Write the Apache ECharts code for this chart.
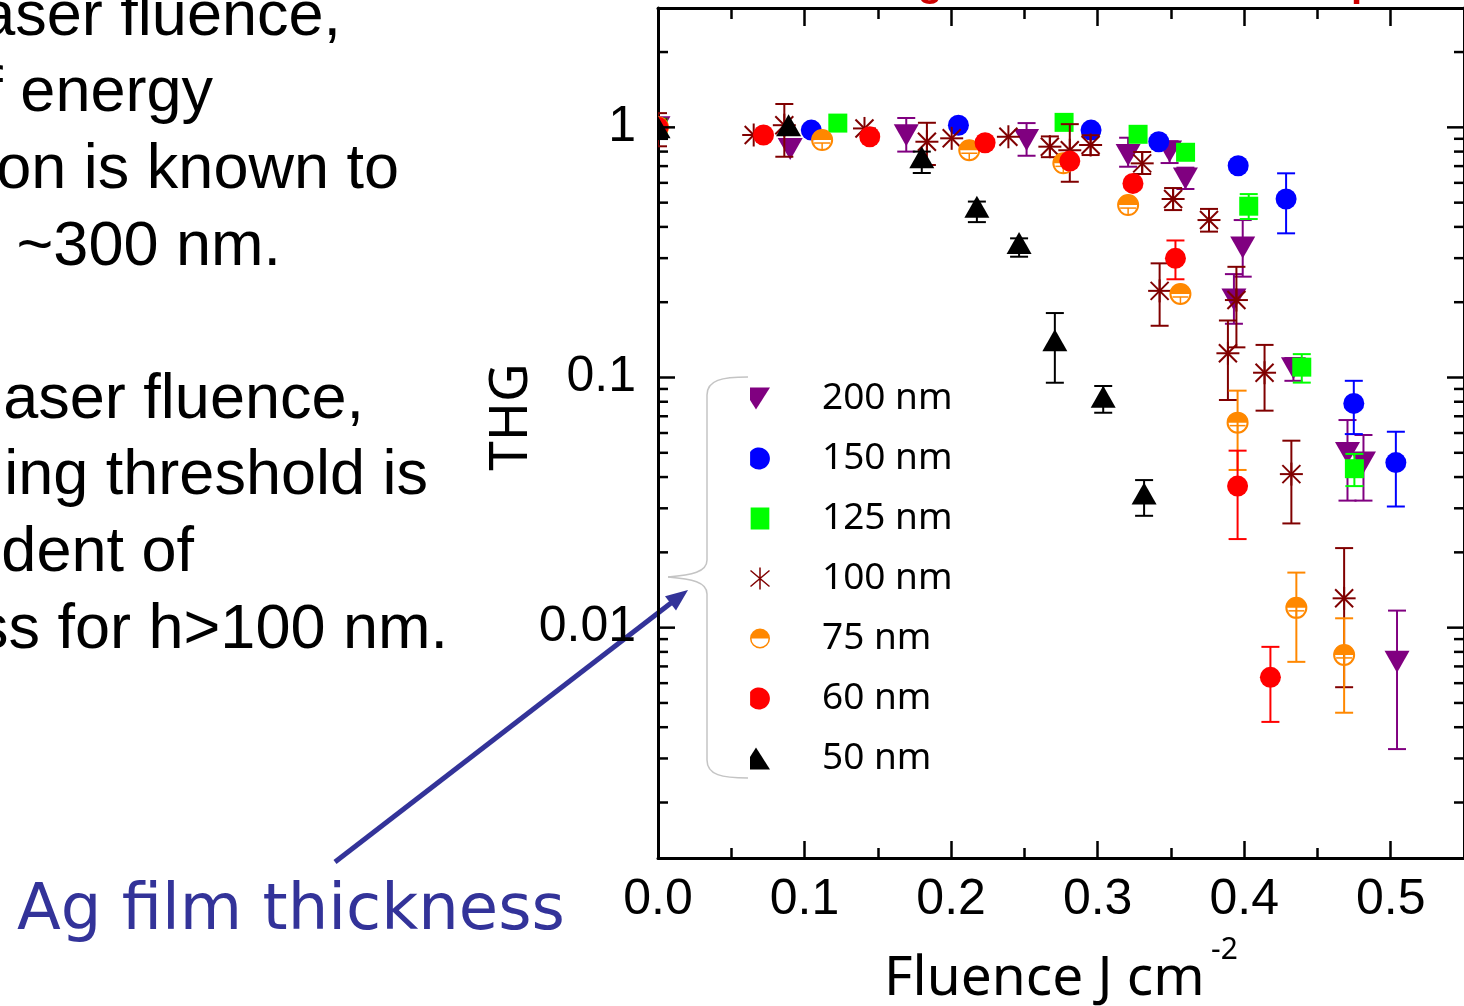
<!DOCTYPE html>
<html>
<head>
<meta charset="utf-8">
<script src="https://cdn.jsdelivr.net/npm/echarts@6/dist/echarts.min.js"></script>
<style>
  html, body { margin: 0; padding: 0; background: #ffffff; }
  #chart { width: 1464px; height: 1006px; }
</style>
</head>
<body>
<div id="chart"></div>
<script>
// THG signal (normalised) versus laser fluence for Ag films of different thickness.
// Each point: [fluence (J cm^-2), THG, lower error, upper error]
const thg200 = [
  [0, 1.0, null, null],
  [0.0902, 0.82, null, null],
  [0.1694, 0.93, 0.80, 1.09],
  [0.2515, 0.89, 0.77, 1.04],
  [0.3208, 0.775, 0.696, 0.909],
  [0.3491, 0.80, 0.72, 0.88],
  [0.3599, 0.625, 0.567, 0.69],
  [0.3930, 0.205, 0.164, 0.259],
  [0.3990, 0.331, 0.253, 0.426],
  [0.4336, 0.109, 0.097, 0.1196],
  [0.4705, 0.0499, 0.0322, 0.0676],
  [0.4814, 0.0457, 0.0322, 0.0589],
  [0.5043, 0.00731, 0.00327, 0.0117]
];
const thg150 = [
  [0, 1.0, null, null],
  [0.1046, 0.975, null, null],
  [0.2050, 1.02, null, null],
  [0.2955, 0.975, null, null],
  [0.3417, 0.876, null, null],
  [0.3959, 0.702, null, null],
  [0.4286, 0.517, 0.377, 0.655],
  [0.4748, 0.0788, 0.0594, 0.097],
  [0.5035, 0.0457, 0.0305, 0.0607]
];
const thg125 = [
  [0, 1.0, null, null],
  [0.1227, 1.04, null, null],
  [0.2771, 1.047, null, null],
  [0.3276, 0.938, null, null],
  [0.3600, 0.795, null, null],
  [0.4031, 0.484, 0.43, 0.541],
  [0.4393, 0.110, 0.0954, 0.124],
  [0.4752, 0.0432, 0.0368, 0.0495]
];
const thg100 = [
  [0, 1.0, 0.84, 1.14],
  [0.0653, 0.932, null, null],
  [0.0862, 1.02, 0.763, 1.24],
  [0.1409, 0.99, null, null],
  [0.1835, 0.876, 0.707, 1.043],
  [0.2004, 0.904, null, null],
  [0.2391, 0.917, null, null],
  [0.2674, 0.837, 0.76, 0.92],
  [0.2810, 0.81, 0.606, 1.03],
  [0.2952, 0.85, 0.775, 0.93],
  [0.3304, 0.718, 0.651, 0.797],
  [0.3423, 0.222, 0.161, 0.286],
  [0.3515, 0.517, 0.467, 0.572],
  [0.3760, 0.426, 0.383, 0.472],
  [0.3889, 0.125, 0.0813, 0.169],
  [0.3947, 0.204, 0.132, 0.277],
  [0.4139, 0.1045, 0.0737, 0.135],
  [0.4322, 0.0411, 0.0261, 0.0559],
  [0.4682, 0.0131, 0.00578, 0.0208]
];
const thg75 = [
  [0, 1.0, null, null],
  [0.1120, 0.89, null, null],
  [0.2124, 0.81, null, null],
  [0.2766, 0.718, null, null],
  [0.3208, 0.489, null, null],
  [0.3565, 0.2157, null, null],
  [0.3955, 0.066, 0.0427, 0.0886],
  [0.4356, 0.0120, 0.0073, 0.0166],
  [0.4682, 0.00778, 0.00457, 0.0109]
];
const thg60 = [
  [0, 1.0, null, null],
  [0.0720, 0.932, null, null],
  [0.1445, 0.917, null, null],
  [0.2232, 0.868, null, null],
  [0.2810, 0.733, null, null],
  [0.3241, 0.597, null, null],
  [0.3531, 0.2995, 0.247, 0.353],
  [0.3955, 0.0368, 0.0226, 0.051],
  [0.4179, 0.00633, 0.0042, 0.00838]
];
const thg50 = [
  [0, 1.0, null, null],
  [0.0891, 1.02, null, null],
  [0.1800, 0.759, 0.657, 0.80],
  [0.2176, 0.482, 0.418, 0.505],
  [0.2464, 0.345, 0.304, 0.36],
  [0.2708, 0.141, 0.0953, 0.181],
  [0.3038, 0.0838, 0.0723, 0.0925],
  [0.3317, 0.0344, 0.028, 0.0389]
];

const seriesNames = ['200 nm', '150 nm', '125 nm', '100 nm', '75 nm', '60 nm', '50 nm'];

// Axis ranges and tick values
const xMin = 0, xMax = 0.55;
const yMin = 0.0012, yMax = 3;
const yMajorTicks = [0.01, 0.1, 1];
const yMinorTicks = [
  0.002, 0.003, 0.004, 0.005, 0.006, 0.007, 0.008, 0.009,
  0.02, 0.03, 0.04, 0.05, 0.06, 0.07, 0.08, 0.09,
  0.2, 0.3, 0.4, 0.5, 0.6, 0.7, 0.8, 0.9,
  2
];

// Slide text beside the plot
const sideLines = [
  'aser fluence,',
  'f energy',
  'on is known to',
  '~300 nm.',
  'aser fluence,',
  'ing threshold is',
  'dent of',
  'ss for h>100 nm.'
];
const calloutText = 'Ag film thickness';
const xTitle = 'Fluence J cm';
const xTitleSup = '-2';
const yTitle = 'THG';

const styles = {
  '200 nm': { color: '#800080', shape: 'triDown' },
  '150 nm': { color: '#0000ff', shape: 'circle' },
  '125 nm': { color: '#00ff00', shape: 'square' },
  '100 nm': { color: '#800000', shape: 'asterisk' },
  '75 nm':  { color: '#ff8800', shape: 'half' },
  '60 nm':  { color: '#ff0000', shape: 'circle' },
  '50 nm':  { color: '#000000', shape: 'triUp' }
};
const seriesData = {
  '200 nm': thg200, '150 nm': thg150, '125 nm': thg125, '100 nm': thg100,
  '75 nm': thg75, '60 nm': thg60, '50 nm': thg50
};

// Marker drawing (pixel offsets are relative to the point position)
const markers = {
  triDown(cx, cy, c) {
    return [{ type: 'polygon', shape: { points: [[cx - 12.5, cy - 11], [cx + 12.5, cy - 11], [cx, cy + 11]] }, style: { fill: c } }];
  },
  triUp(cx, cy, c) {
    return [{ type: 'polygon', shape: { points: [[cx, cy - 11], [cx + 12.5, cy + 11], [cx - 12.5, cy + 11]] }, style: { fill: c } }];
  },
  circle(cx, cy, c) {
    return [{ type: 'circle', shape: { cx: cx, cy: cy, r: 10.5 }, style: { fill: c } }];
  },
  square(cx, cy, c) {
    return [{ type: 'rect', shape: { x: cx - 9.5, y: cy - 9.5, width: 19, height: 19 }, style: { fill: c } }];
  },
  asterisk(cx, cy, c) {
    const s = { stroke: c, lineWidth: 2 };
    return [
      { type: 'line', shape: { x1: cx - 11.5, y1: cy, x2: cx + 11.5, y2: cy }, style: s },
      { type: 'line', shape: { x1: cx, y1: cy - 11.5, x2: cx, y2: cy + 11.5 }, style: s },
      { type: 'line', shape: { x1: cx - 9, y1: cy - 9, x2: cx + 9, y2: cy + 9 }, style: s },
      { type: 'line', shape: { x1: cx - 9, y1: cy + 9, x2: cx + 9, y2: cy - 9 }, style: s }
    ];
  },
  half(cx, cy, c) {
    return [
      { type: 'sector', shape: { cx: cx, cy: cy, r0: 0, r: 10.5, startAngle: Math.PI, endAngle: Math.PI * 2, clockwise: true }, style: { fill: c } },
      { type: 'circle', shape: { cx: cx, cy: cy, r: 10 }, style: { fill: 'none', stroke: c, lineWidth: 2 } },
      { type: 'line', shape: { x1: cx - 8, y1: cy + 3, x2: cx + 8, y2: cy + 3 }, style: { stroke: c, lineWidth: 1.5 } },
      { type: 'line', shape: { x1: cx, y1: cy + 3, x2: cx, y2: cy + 10 }, style: { stroke: c, lineWidth: 1.5 } }
    ];
  }
};

function pointRenderer(shape) {
  return function (params, api) {
    const x = api.value(0), y = api.value(1), lo = api.value(2), hi = api.value(3);
    const color = api.visual('color');
    const c = api.coord([x, y]);
    const kids = [];
    if (isFinite(lo) && isFinite(hi) && lo > 0 && hi > 0) {
      const pl = api.coord([x, lo]), ph = api.coord([x, hi]);
      const st = { stroke: color, lineWidth: 2 };
      kids.push({ type: 'line', shape: { x1: c[0], y1: ph[1], x2: c[0], y2: pl[1] }, style: st });
      kids.push({ type: 'line', shape: { x1: c[0] - 9, y1: ph[1], x2: c[0] + 9, y2: ph[1] }, style: st });
      kids.push({ type: 'line', shape: { x1: c[0] - 9, y1: pl[1], x2: c[0] + 9, y2: pl[1] }, style: st });
    }
    markers[shape](c[0], c[1], color).forEach(function (k) { kids.push(k); });
    return { type: 'group', children: kids };
  };
}

function yTickRenderer(len) {
  return function (params, api) {
    const v = api.value(1);
    const l = api.coord([xMin, v]);
    const r = api.coord([xMax, v]);
    const st = { stroke: '#000', lineWidth: 2.5 };
    return {
      type: 'group',
      children: [
        { type: 'line', shape: { x1: l[0], y1: l[1], x2: l[0] + len, y2: l[1] }, style: st },
        { type: 'line', shape: { x1: r[0] - len, y1: r[1], x2: r[0], y2: r[1] }, style: st }
      ]
    };
  };
}

const legendIcons = {
  '200 nm': 'path://M8,0 L28,0 L14,22 L8,12.6 Z',
  '150 nm': 'path://M2,4 A10,10 0 1 1 2,16 Z',
  '125 nm': 'path://M0,0 L17,0 L17,20 L0,20 Z',
  '100 nm': 'path://M9.5,0 L9.5,22 M0,3 L19,19 M0,19 L19,3',
  '75 nm':  'path://M0,10 A10,10 0 0 1 20,10 Z M0,10 A10,10 0 0 0 20,10 L18.5,10 A8.5,8.5 0 0 1 1.5,10 Z',
  '60 nm':  'path://M2,4 A10,10 0 1 1 2,16 Z',
  '50 nm':  'path://M8,9.4 L14,0 L28,22 L8,22 Z'
};

function xAxisDef(pos, interval, tickLen, withLine, withLabels) {
  return {
    type: 'value', position: pos, min: xMin, max: xMax, interval: interval,
    axisLine: { show: withLine, onZero: false, lineStyle: { color: '#000', width: 3 } },
    axisTick: { show: true, inside: true, length: tickLen, lineStyle: { color: '#000', width: 2.5 } },
    axisLabel: withLabels ? {
      show: true, margin: 17, showMaxLabel: false, color: '#000',
      fontFamily: 'Liberation Sans', fontSize: 50,
      formatter: function (v) { return v.toFixed(1); }
    } : { show: false },
    splitLine: { show: false }
  };
}

function yAxisDef(pos, withLabels) {
  return {
    type: 'log', logBase: 10, position: pos, min: yMin, max: yMax,
    axisLine: { show: true, onZero: false, lineStyle: { color: '#000', width: 3 } },
    axisTick: { show: false },
    axisLabel: withLabels ? {
      show: true, margin: 22, color: '#000', fontFamily: 'Liberation Sans', fontSize: 50,
      formatter: function (v) {
        const e = Math.log10(v);
        return Math.abs(e - Math.round(e)) < 1e-6 ? String(Number(v.toPrecision(2))) : '';
      }
    } : { show: false },
    splitLine: { show: false }
  };
}

function textEl(x, y, text, font, fill, align, extra) {
  const el = {
    type: 'text', x: x, y: y, silent: true,
    style: { text: text, font: font, fill: fill, textAlign: align, align: align, textVerticalAlign: 'middle', verticalAlign: 'middle' }
  };
  return Object.assign(el, extra || {});
}

const sideRight = [341, 213, 399, 281, 364, 428, 194, 448];
const sideMid = [18, 94, 171, 248, 401, 477, 554, 631];
const graphics = sideLines.map(function (t, i) {
  return textEl(sideRight[i], sideMid[i], t, '63px "Liberation Sans"', '#000', 'right');
});

// red heading above the plot (only its descenders fall inside the view)
graphics.push(textEl(918, -15, 'g', 'bold 40px "Liberation Sans"', '#cc0000', 'left'));
graphics.push(textEl(1351, -15, 'p', 'bold 40px "Liberation Sans"', '#cc0000', 'left'));

// callout text and arrow
graphics.push(textEl(17, 912, calloutText, '64px "DejaVu Sans"', '#333399', 'left'));
graphics.push({ type: 'line', silent: true, shape: { x1: 335, y1: 862, x2: 671, y2: 603 }, style: { stroke: '#333399', lineWidth: 5 } });
graphics.push({ type: 'polygon', silent: true, shape: { points: [[688, 590], [676, 610.5], [665, 596.3]] }, style: { fill: '#333399' } });

// brace grouping the legend entries
const braceStyle = { fill: 'none', stroke: '#c4c4c4', lineWidth: 1.5 };
[
  { x1: 748, y1: 377, cpx1: 722, cpy1: 377, cpx2: 707, cpy2: 380, x2: 707, y2: 395 },
  { x1: 707, y1: 560, cpx1: 707, cpy1: 572, cpx2: 692, cpy2: 575, x2: 668, y2: 577 },
  { x1: 668, y1: 577, cpx1: 692, cpy1: 579, cpx2: 707, cpy2: 582, x2: 707, y2: 594 },
  { x1: 707, y1: 760, cpx1: 707, cpy1: 775, cpx2: 722, cpy2: 778, x2: 748, y2: 778 }
].forEach(function (s) { graphics.push({ type: 'bezierCurve', silent: true, shape: s, style: braceStyle }); });
graphics.push({ type: 'line', silent: true, shape: { x1: 707, y1: 395, x2: 707, y2: 560 }, style: braceStyle });
graphics.push({ type: 'line', silent: true, shape: { x1: 707, y1: 594, x2: 707, y2: 760 }, style: braceStyle });

// axis titles
graphics.push(textEl(512, 417, yTitle, '53px "Noto Sans"', '#000', 'center', { rotation: Math.PI / 2 }));
graphics.push(textEl(884, 979, xTitle, '55px "Noto Sans"', '#000', 'left'));
graphics.push(textEl(1211, 950, xTitleSup, '30px "Noto Sans"', '#000', 'left'));

const series = seriesNames.map(function (name) {
  return {
    type: 'custom', name: name, data: seriesData[name],
    itemStyle: { color: styles[name].color },
    renderItem: pointRenderer(styles[name].shape),
    encode: { x: 0, y: 1 },
    clip: true, silent: true, z: 3
  };
});
series.push({
  type: 'custom', name: 'yMajor', data: yMajorTicks.map(function (v) { return [xMin, v]; }),
  renderItem: yTickRenderer(17), encode: { x: 0, y: 1 }, clip: false, silent: true, z: 5
});
series.push({
  type: 'custom', name: 'yMinor', data: yMinorTicks.map(function (v) { return [xMin, v]; }),
  renderItem: yTickRenderer(10), encode: { x: 0, y: 1 }, clip: false, silent: true, z: 5
});

const chart = echarts.init(document.getElementById('chart'), null, { renderer: 'canvas' });
chart.setOption({
  animation: false,
  backgroundColor: '#ffffff',
  grid: { left: 658, top: 8, right: -1, bottom: 148, containLabel: false },
  xAxis: [
    xAxisDef('bottom', 0.1, 17, true, true),
    xAxisDef('bottom', 0.05, 10, false, false),
    xAxisDef('top', 0.1, 18, true, false),
    xAxisDef('top', 0.05, 11, false, false)
  ],
  yAxis: [yAxisDef('left', true), yAxisDef('right', false)],
  legend: {
    orient: 'vertical', left: 748, top: 380, padding: 0,
    itemWidth: 20, itemHeight: 22, itemGap: 23, selectedMode: false,
    formatter: function (n) { return '{t|' + n + '}'; },
    textStyle: {
      color: '#000', fontFamily: 'Noto Sans', fontSize: 37, lineHeight: 36,
      rich: { t: { color: '#000', fontFamily: 'Noto Sans', fontSize: 37, lineHeight: 36, padding: [0, 0, 0, 47] } }
    },
    data: seriesNames.map(function (n) {
      const it = { name: n, icon: legendIcons[n], itemStyle: { color: styles[n].color } };
      if (n === '100 nm') it.itemStyle = { color: 'none', borderColor: styles[n].color, borderWidth: 1.5 };
      return it;
    })
  },
  graphic: { elements: graphics },
  series: series
});
</script>
</body>
</html>
